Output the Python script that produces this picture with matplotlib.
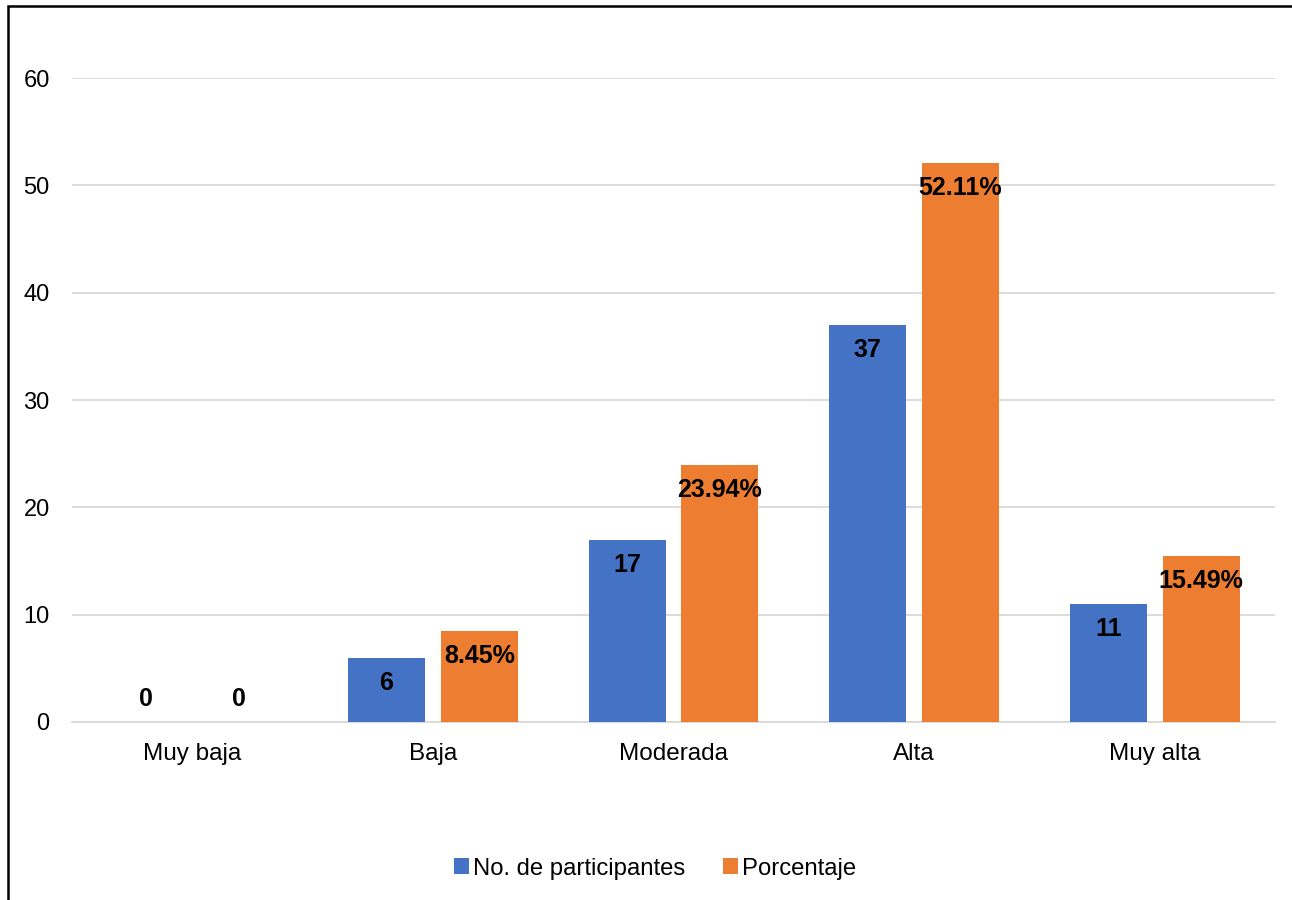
import numpy as np
import matplotlib.pyplot as plt
from matplotlib.patches import Rectangle

plt.rcParams['font.family'] = ['Liberation Sans', 'DejaVu Sans']

categorias = ['Muy baja', 'Baja', 'Moderada', 'Alta', 'Muy alta']
participantes = [0, 6, 17, 37, 11]
porcentaje = [0, 8.45, 23.94, 52.11, 15.49]
etiquetas_part = ['0', '6', '17', '37', '11']
etiquetas_pct = ['0', '8.45%', '23.94%', '52.11%', '15.49%']

azul = '#4472C4'
naranja = '#ED7D31'
gris = '#D9D9D9'

fig = plt.figure(figsize=(12.92, 9), dpi=100)
ax = fig.add_axes([0.0557, 0.1978, 0.9311, 0.7155])

# outer chart border (extends past the right and bottom edges)
fig.patches.append(Rectangle((0.0065, -0.05), 1.1, 1.043, transform=fig.transFigure,
                             fill=False, edgecolor='black', linewidth=1.8))

x = np.arange(len(categorias))
w = 0.32
off = 0.193
b1 = ax.bar(x - off, participantes, w, color=azul, label='No. de participantes', zorder=3)
b2 = ax.bar(x + off, porcentaje, w, color=naranja, label='Porcentaje', zorder=3)


def etiquetar(barras, textos):
    for rect, txt in zip(barras, textos):
        h = rect.get_height()
        cx = rect.get_x() + rect.get_width() / 2
        if h > 0:
            ax.annotate(txt, (cx, h), xytext=(0, -9.5), textcoords='offset points',
                        ha='center', va='top', fontsize=18, fontweight='bold', zorder=4)
        else:
            ax.annotate(txt, (cx, h), xytext=(0, 8), textcoords='offset points',
                        ha='center', va='bottom', fontsize=18, fontweight='bold', zorder=4)


etiquetar(b1, etiquetas_part)
etiquetar(b2, etiquetas_pct)

ax.set_xlim(-0.5, len(categorias) - 0.5)
ax.set_ylim(0, 60)
ax.set_yticks(range(0, 61, 10))
ax.set_xticks(x)
ax.set_xticklabels(categorias)
ax.tick_params(axis='both', length=0, labelsize=17)
ax.tick_params(axis='x', labelsize=17.5, pad=15)
ax.tick_params(axis='y', pad=16)
ax.yaxis.grid(True, color=gris, linewidth=1.3, zorder=0)
for s in ['top', 'right', 'left']:
    ax.spines[s].set_visible(False)
ax.spines['bottom'].set_color(gris)
ax.spines['bottom'].set_linewidth(1.3)

fig.legend(loc='center', bbox_to_anchor=(0.507, 0.035), ncol=2, frameon=False,
           fontsize=17.2, handlelength=0.62, handleheight=0.62, handletextpad=0.15,
           columnspacing=1.6)

fig.savefig('out.png', dpi=100)
